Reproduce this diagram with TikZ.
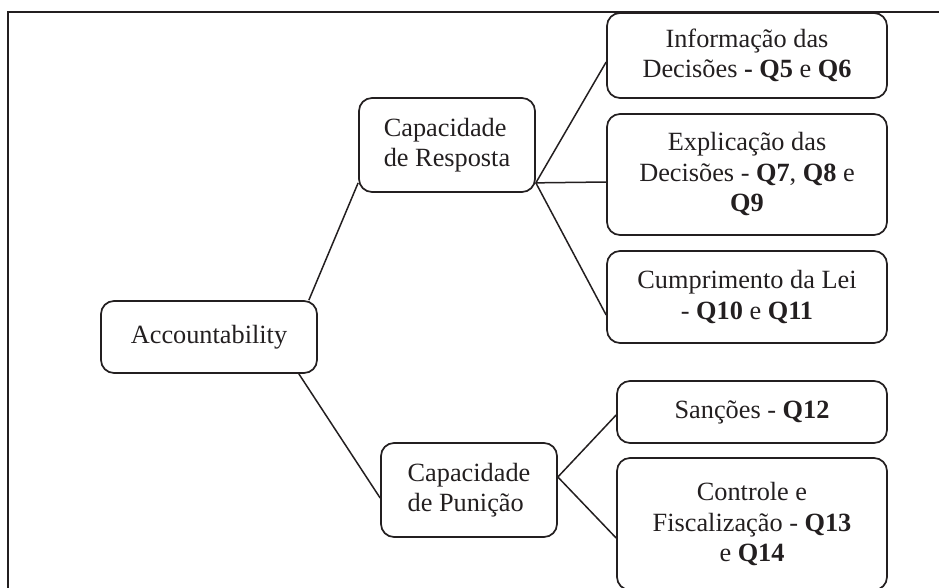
\documentclass[tikz,border=0pt]{standalone}
\usepackage{fontspec}
\setmainfont{Liberation Serif}
\definecolor{ink}{HTML}{231F20}
\begin{document}
\begin{tikzpicture}[x=1pt,y=-1pt,
  box/.style={draw=ink, line width=1.7pt, rounded corners=13pt, text=ink,
    inner sep=0pt, align=center, font=\fontsize{26.3pt}{30.5pt}\selectfont},
  lbox/.style={box, align=left},
  conn/.style={draw=ink, line width=1.5pt}]
\useasboundingbox (0,0) rectangle (939,587);
\draw[ink, line width=1.6pt] (8,600) -- (8,12) -- (950,12);

\node[box, minimum width=216pt, minimum height=72pt] (acc) at (209,337) {Accountability};
\node[lbox, minimum width=176pt, minimum height=94pt] (resp) at (447,145) {Capacidade\\de Resposta};
\node[lbox, minimum width=176pt, minimum height=94pt] (puni) at (469,490) {Capacidade\\de Punição};

\node[box, minimum width=280pt, minimum height=85pt] (info) at (747,55.5)
  {Informação das\\Decisões \textbf{- Q5} e \textbf{Q6}};
\node[box, minimum width=280pt, minimum height=121pt] (expl) at (747,174.5)
  {Explicação das\\Decisões - \textbf{Q7}, \textbf{Q8} e\\\textbf{Q9}};
\node[box, minimum width=280pt, minimum height=92pt] (cump) at (747,297)
  {Cumprimento da Lei\\- \textbf{Q10} e \textbf{Q11}};
\node[box, minimum width=270pt, minimum height=62pt] (sanc) at (752,412)
  {Sanções - \textbf{Q12}};
\node[box, minimum width=270pt, minimum height=132pt] (ctrl) at (752,524)
  {Controle e\\Fiscalização - \textbf{Q13}\\e \textbf{Q14}};

\draw[conn] ([xshift=-9pt]acc.north east) -- ([yshift=10pt]resp.south west);
\draw[conn] ([xshift=-19pt]acc.south east) -- ([yshift=-8pt]puni.west);

\coordinate (rj) at ([yshift=10pt]resp.south east);
\draw[conn] (rj) -- ([yshift=-6.5pt]info.west);
\draw[conn] (rj) -- ([yshift=-7.5pt]expl.west);
\draw[conn] (rj) -- ([yshift=-18pt]cump.west);

\coordinate (pj) at ([yshift=13pt]puni.east);
\draw[conn] (pj) -- ([yshift=-3pt]sanc.west);
\draw[conn] (pj) -- ([yshift=-14pt]ctrl.west);
\end{tikzpicture}
\end{document}
